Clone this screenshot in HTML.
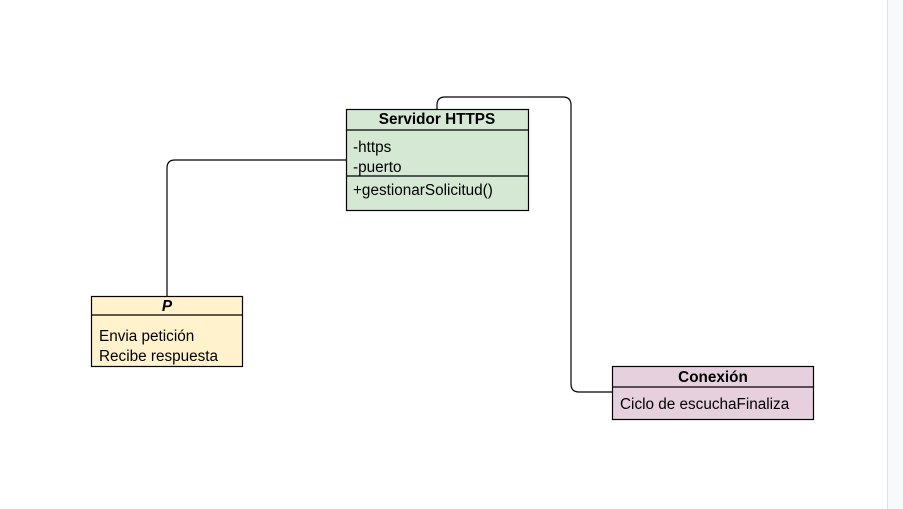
<!DOCTYPE html>
<html><head><meta charset="utf-8"><style>
html,body{margin:0;padding:0;background:#fff;width:903px;height:509px;overflow:hidden}
svg{display:block;font-family:"Liberation Sans",Arial,sans-serif}
</style></head><body>
<svg width="903" height="509" viewBox="0 0 903 509" xmlns="http://www.w3.org/2000/svg">
<rect x="0" y="0" width="903" height="509" fill="#fff"/>
<rect x="887" y="0" width="16" height="509" fill="#f8f9fa"/>
<line x1="887.5" y1="0" x2="887.5" y2="509" stroke="#e0e0e0"/>
<g fill="none" stroke="#000" stroke-width="1.2">
<path d="M346 160 H175 Q167 160 167 168 V296"/>
<path d="M437 109 V105 Q437 97 445 97 H563 Q571 97 571 105 V384 Q571 392 579 392 H612"/>
</g>
<g stroke="#000" stroke-width="1.2">
<rect x="346.5" y="109.5" width="182" height="101" fill="#d5e8d4"/>
<line x1="346.5" y1="130" x2="528.5" y2="130"/>
<line x1="346.5" y1="176" x2="528.5" y2="176"/>
<rect x="91.5" y="296.5" width="151" height="70" fill="#fff2cc"/>
<line x1="91.5" y1="315" x2="242.5" y2="315"/>
<rect x="612.5" y="366.5" width="201" height="53" fill="#e6d0de"/>
<line x1="612.5" y1="387" x2="813.5" y2="387"/>
</g>
<g font-size="15.3" fill="#000">
<text x="437" y="124" text-anchor="middle" font-weight="bold">Servidor HTTPS</text>
<text x="353" y="152">-https</text>
<text x="353" y="172">-puerto</text>
<text x="353" y="195">+gestionarSolicitud()</text>
<text x="167" y="311" text-anchor="middle" font-weight="bold" font-style="italic">P</text>
<text x="99" y="341">Envia petición</text>
<text x="99" y="361">Recibe respuesta</text>
<text x="713" y="382" text-anchor="middle" font-weight="bold">Conexión</text>
<text x="620" y="409">Ciclo de escuchaFinaliza</text>
</g>
</svg>
</body></html>
